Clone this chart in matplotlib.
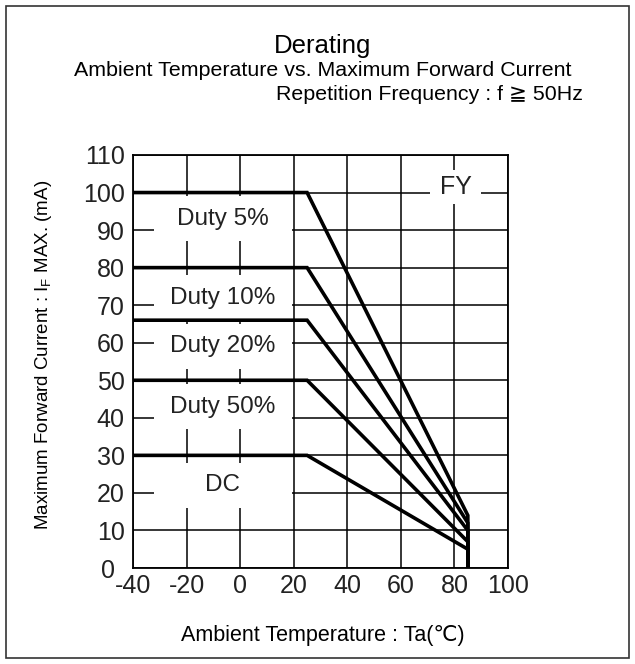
import matplotlib.pyplot as plt
from matplotlib.patches import Rectangle

plt.rcParams['font.family'] = ['Liberation Sans', 'DejaVu Sans']
plt.rcParams['axes.unicode_minus'] = False

# derating curves: flat up to the knee, then linear down to 85 degC, then drop to 0
curve_names = ['Duty 5%', 'Duty 10%', 'Duty 20%', 'Duty 50%', 'DC']
max_current = [100, 80, 66, 50, 30]      # mA, flat part
end_current = [14, 12, 10, 7, 5]         # mA at 85 degC
temp_start = -40
temp_knee = 25
temp_end = 85
label_y = [93, 72, 59, 43, 22]

x_ticks = [-40, -20, 0, 20, 40, 60, 80, 100]
y_ticks = [0, 10, 20, 30, 40, 50, 60, 70, 80, 90, 100, 110]

W, H = 635, 664
fig = plt.figure(figsize=(W / 100, H / 100), dpi=100)
ax = fig.add_axes([133 / W, 1 - 568 / H, 375 / W, 413 / H])

for i in range(len(curve_names)):
    xs = [temp_start, temp_knee, temp_end, temp_end]
    ys = [max_current[i], max_current[i], end_current[i], 0]
    ax.plot(xs, ys, color='black', lw=2.6, zorder=3, solid_joinstyle='miter')

    # white box behind label hides the grid
    ax.add_patch(Rectangle((-6.5 - 25.75, label_y[i] - 6), 51.5, 12,
                           facecolor='white', edgecolor='none', zorder=1.5))
    ax.text(-6.5, label_y[i], curve_names[i], ha='center', va='center',
            fontsize=17.5, color='#222222', zorder=4)

ax.add_patch(Rectangle((71, 97), 19, 9, facecolor='white', edgecolor='none', zorder=1.5))
ax.text(80.5, 101.5, 'FY', ha='center', va='center', fontsize=18, color='#222222', zorder=4)

ax.set_xlim(-40, 100)
ax.set_ylim(0, 110)
ax.set_xticks(x_ticks)
ax.set_yticks(y_ticks)
ax.tick_params(length=0, labelsize=18, labelcolor='#222222')
ax.tick_params(axis='y', pad=6)
ax.tick_params(axis='x', pad=4)
# the "0" on the y axis sits a little further left, clear of "-40"
ax.yaxis.get_major_ticks()[0].set_pad(13)
ax.grid(True, color='black', lw=1.1)
ax.set_axisbelow(True)
for s in ax.spines.values():
    s.set_linewidth(1.3)

fig.text(323 / W, 1 - 46 / H, 'Derating', ha='center', va='center', fontsize=18.5)
fig.text(323 / W, 1 - 71 / H, 'Ambient Temperature vs. Maximum Forward Current',
         ha='center', va='center', fontsize=15.4)
fig.text(583 / W, 1 - 94 / H, 'Repetition Frequency : f \u2267 50Hz',
         ha='right', va='center', fontsize=15.4)

fig.text(44 / W, 1 - 355 / H, r'Maximum Forward Current : $\mathregular{I_F}$ MAX. (mA)',
         rotation=90, ha='center', va='center', fontsize=13.5)
fig.text(323 / W, 1 - 635 / H, 'Ambient Temperature : Ta(\u2103)',
         ha='center', va='center', fontsize=15.5)

fig.add_artist(Rectangle((6 / W, 6 / H), 623 / W, 652 / H, transform=fig.transFigure,
                         fill=False, lw=1.2, edgecolor='#333333'))

fig.savefig('out.png', dpi=100, facecolor='white')
